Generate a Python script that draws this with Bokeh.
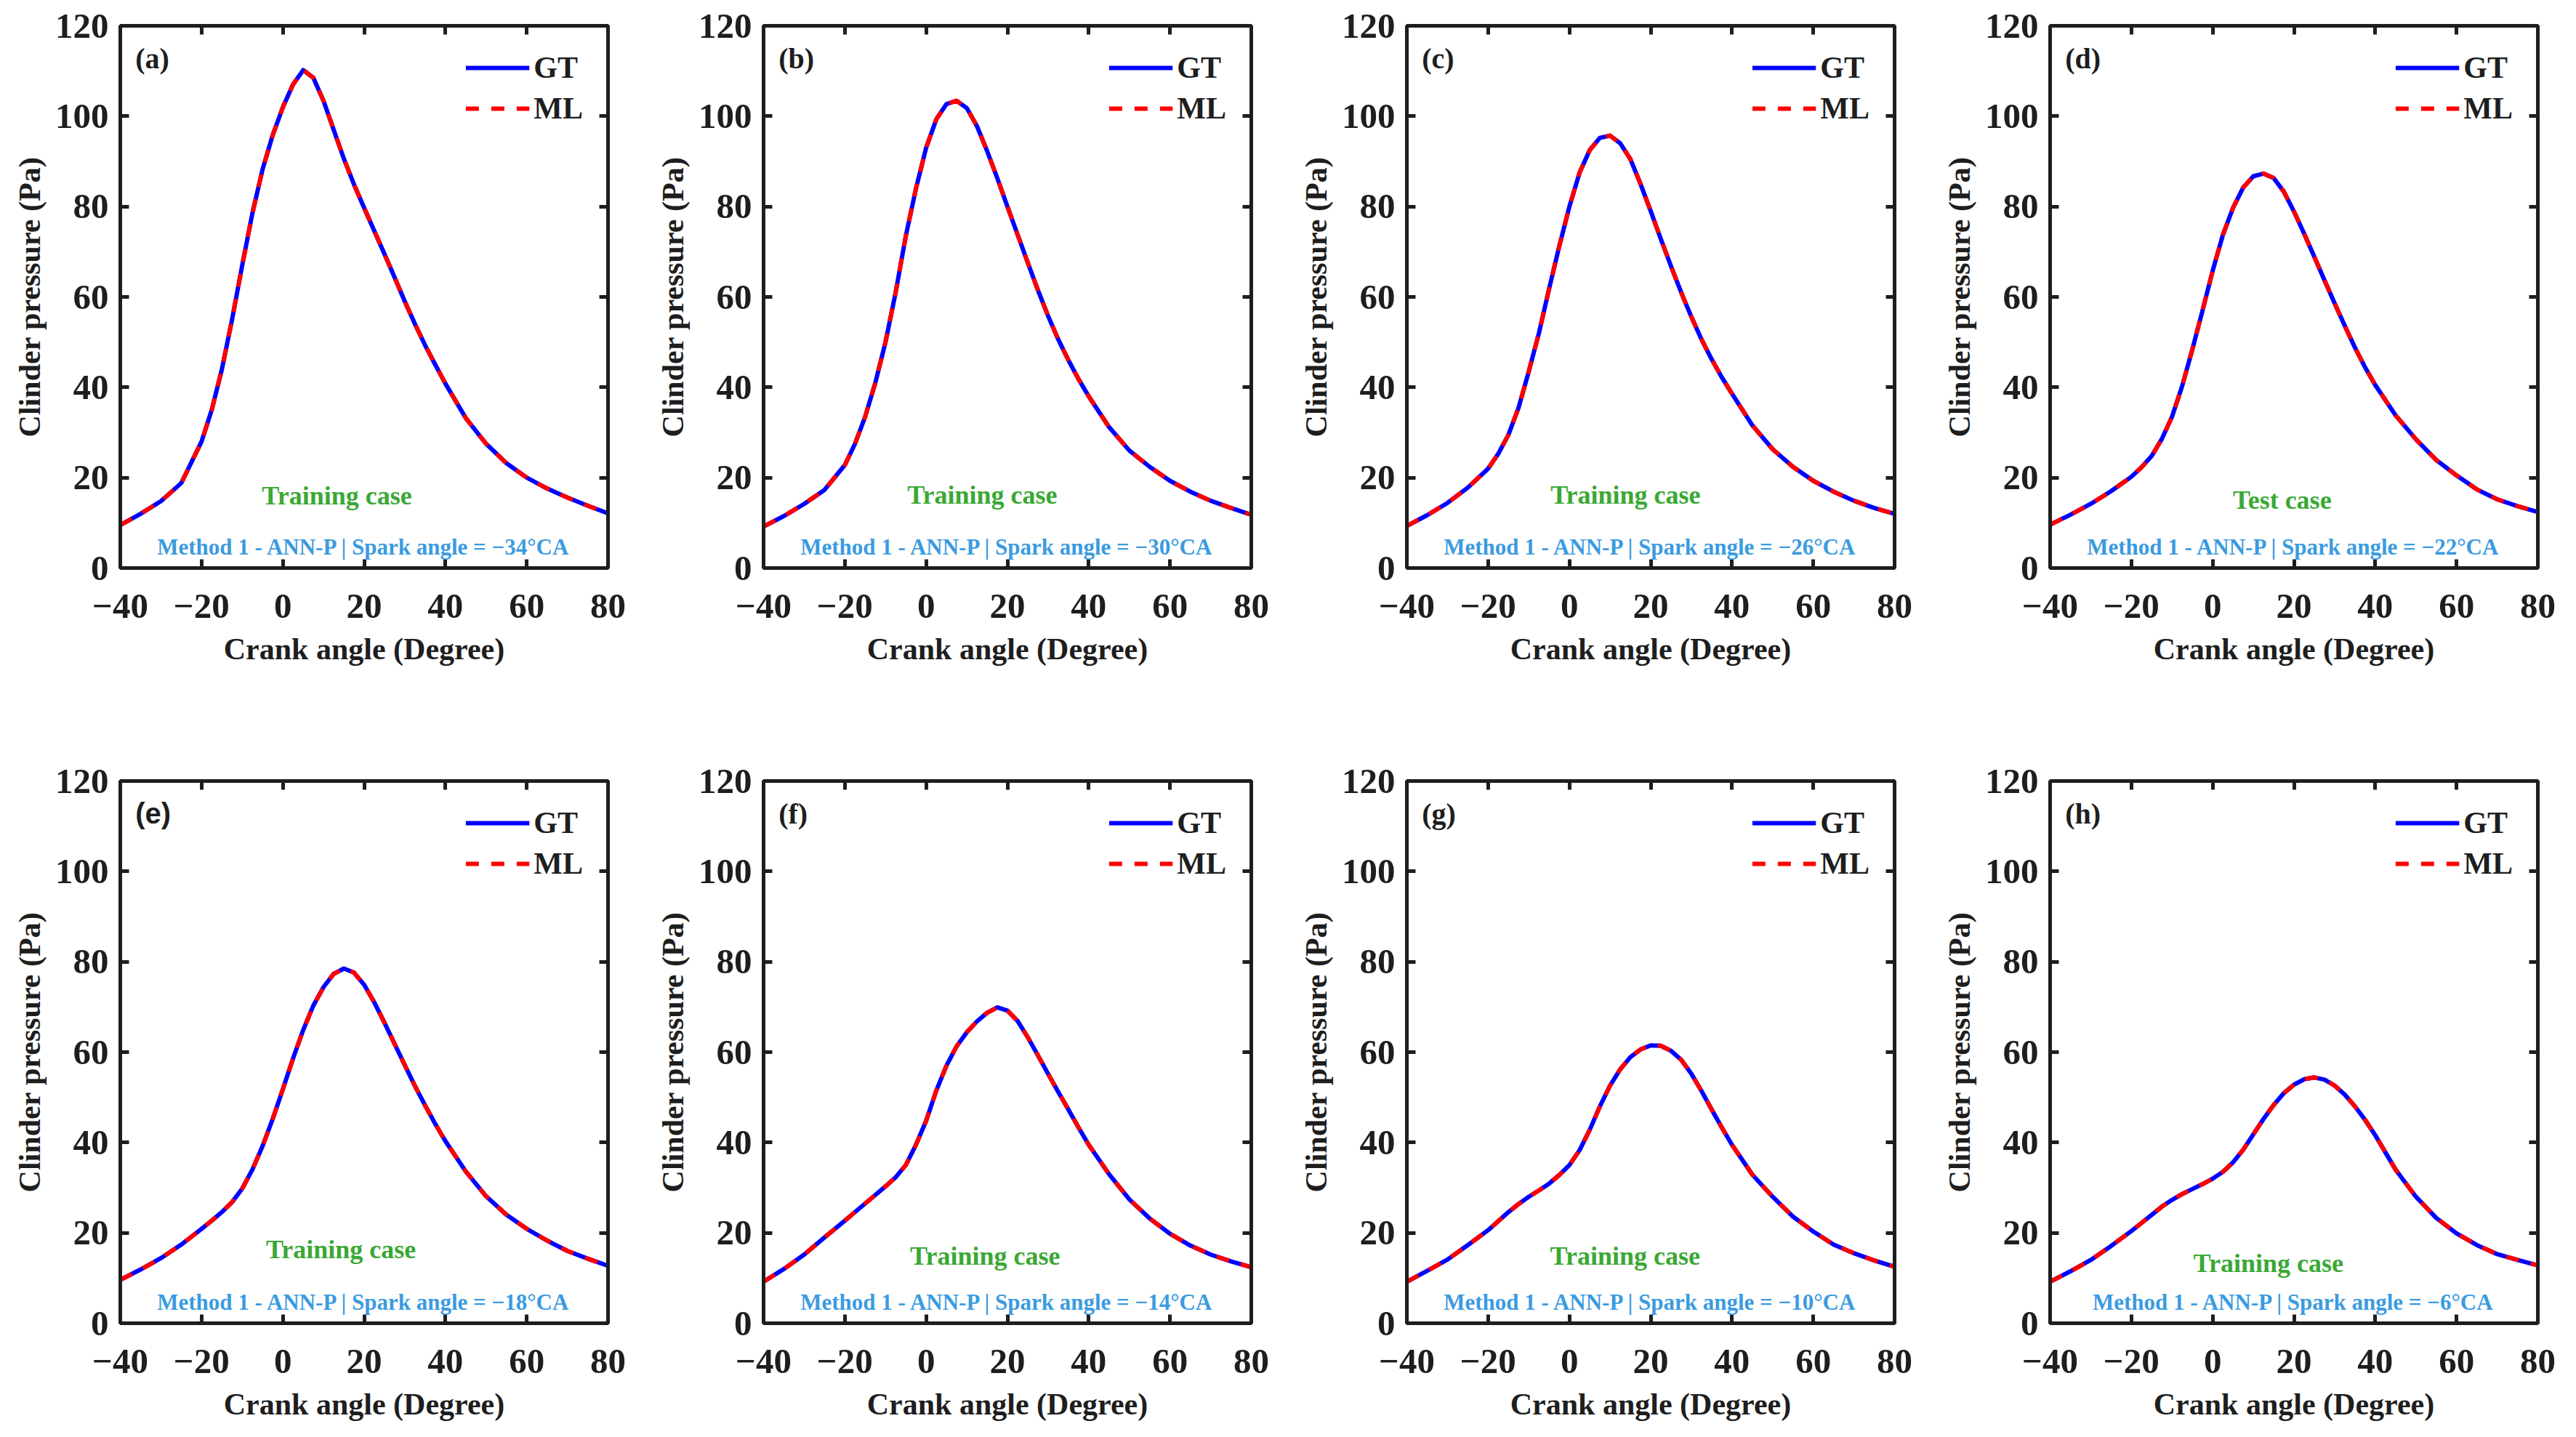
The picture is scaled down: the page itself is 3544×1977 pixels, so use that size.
from bokeh.plotting import figure
from bokeh.models import (Label, LinearAxis, FixedTicker, Range1d, Legend, LegendItem,
                          CustomLabelingPolicy)
from bokeh.layouts import column, row
from bokeh.embed import file_html
from bokeh.resources import INLINE

# ---------------- data ----------------
crank_angle = [-40, -35, -30, -25, -20, -17.5, -15, -12.5, -10, -7.5, -5, -2.5, 0, 2.5, 5,
               7.5, 10, 12.5, 15, 17.5, 20, 22.5, 25, 27.5, 30, 32.5, 35, 37.5, 40, 45, 50,
               55, 60, 65, 70, 75, 80]

pressure_a = [9.5, 12.0, 14.8, 18.8, 28.0, 35.0, 44.0, 55.0, 67.0, 78.5, 88.2, 95.8, 102.0,
              107.0, 110.2, 108.5, 103.4, 97.0, 90.6, 84.9, 79.7, 74.6, 69.5, 64.3, 59.0,
              54.0, 49.3, 45.0, 40.8, 33.2, 27.5, 23.2, 20.0, 17.6, 15.6, 13.8, 12.1]
pressure_b = [9.2, 11.5, 14.2, 17.3, 22.8, 27.5, 33.5, 41.0, 50.0, 61.0, 73.5, 84.0, 93.0,
              99.3, 102.7, 103.4, 101.8, 97.8, 92.3, 86.3, 80.0, 73.8, 67.6, 61.5, 55.8,
              50.6, 46.0, 41.8, 38.0, 31.2, 26.0, 22.4, 19.3, 16.9, 14.9, 13.3, 11.8]
pressure_c = [9.3, 11.7, 14.4, 17.8, 22.0, 25.3, 29.5, 35.5, 43.5, 52.0, 61.8, 71.2, 80.0,
              87.5, 92.5, 95.2, 95.7, 94.0, 90.5, 85.0, 79.0, 72.8, 66.8, 61.0, 55.6,
              50.6, 46.2, 42.2, 38.6, 31.6, 26.3, 22.4, 19.3, 16.9, 14.9, 13.3, 12.0]
pressure_d = [9.6, 11.8, 14.2, 17.0, 20.2, 22.3, 24.8, 28.6, 33.5, 40.3, 48.4, 57.0, 65.8,
              73.7, 79.7, 84.2, 86.7, 87.3, 86.3, 83.3, 78.9, 74.0, 68.9, 63.7, 58.6,
              53.6, 48.8, 44.4, 40.5, 33.8, 28.5, 23.9, 20.5, 17.4, 15.2, 13.7, 12.4]
pressure_e = [9.6, 11.9, 14.4, 17.4, 20.9, 22.7, 24.6, 26.8, 29.8, 34.0, 39.2, 45.2, 51.8,
              58.6, 64.9, 70.3, 74.4, 77.3, 78.5, 77.6, 74.9, 71.0, 66.5, 61.8, 57.1,
              52.5, 48.2, 44.1, 40.3, 33.6, 28.1, 24.0, 20.9, 18.3, 16.0, 14.3, 12.7]
pressure_f = [9.2, 12.0, 15.2, 19.0, 22.7, 24.6, 26.5, 28.4, 30.3, 32.3, 35.0, 39.5, 44.8,
              51.5, 57.0, 61.3, 64.4, 66.8, 68.7, 69.9, 69.2, 66.9, 63.3, 59.3, 55.2,
              51.2, 47.3, 43.3, 39.5, 33.0, 27.4, 23.2, 19.8, 17.2, 15.2, 13.7, 12.4]
pressure_g = [9.2, 11.6, 14.1, 17.3, 20.6, 22.6, 24.6, 26.4, 28.0, 29.4, 30.9, 32.8, 35.0,
              38.3, 42.8, 48.0, 52.6, 56.2, 58.9, 60.6, 61.5, 61.4, 60.3, 58.3, 55.2,
              51.4, 47.3, 43.3, 39.5, 32.9, 28.0, 23.6, 20.3, 17.4, 15.5, 13.9, 12.5]
pressure_h = [9.2, 11.5, 14.0, 17.1, 20.4, 22.2, 24.0, 25.8, 27.3, 28.6, 29.7, 30.8, 32.0,
              33.5, 35.6, 38.4, 41.8, 45.2, 48.3, 50.9, 52.8, 54.0, 54.4, 53.9, 52.6,
              50.6, 48.0, 45.0, 41.6, 34.0, 28.0, 23.3, 19.9, 17.3, 15.3, 14.0, 12.8]

pressures = [pressure_a, pressure_b, pressure_c, pressure_d,
             pressure_e, pressure_f, pressure_g, pressure_h]
panel_labels = ["(a)", "(b)", "(c)", "(d)", "(e)", "(f)", "(g)", "(h)"]
spark_angles = [-34, -30, -26, -22, -18, -14, -10, -6]
case_types = ["Training case", "Training case", "Training case", "Test case",
              "Training case", "Training case", "Training case", "Training case"]

x_ticks = [-40, -20, 0, 20, 40, 60, 80]
x_tick_labels = ["\u221240", "\u221220", "0", "20", "40", "60", "80"]
y_ticks = [0, 20, 40, 60, 80, 100, 120]

# ---------------- styling / layout ----------------
SERIF = "Liberation Serif"
SANS = "Liberation Sans"
FRAME_COLOR = "#1e1e1e"
GT_COLOR = "#0000ff"
ML_COLOR = "#ff0000"
CASE_COLOR = "#3aa834"
METHOD_COLOR = "#3b9be0"

case_xy = [(13.3, 16.0), (13.8, 16.2), (13.8, 16.2), (17.1, 15.0),
           (14.3, 16.4), (14.5, 14.9), (13.7, 14.9), (13.7, 13.3)]
method_y = 4.7

NO_LABELS = CustomLabelingPolicy(code="""
const all = Array.from(indices)
for (const i of all) indices.unset(i)
return indices
""")


def style_axis(ax, ticks, show_labels, overrides=None):
    ax.ticker = FixedTicker(ticks=ticks)
    ax.major_tick_in = 12
    ax.major_tick_out = 0
    ax.minor_tick_in = 0
    ax.minor_tick_out = 0
    ax.major_tick_line_width = 5
    ax.major_tick_line_color = FRAME_COLOR
    ax.axis_line_width = 5
    ax.axis_line_color = FRAME_COLOR
    if show_labels:
        ax.major_label_text_font = SERIF
        ax.major_label_text_font_style = "bold"
        ax.major_label_text_font_size = "49px"
        ax.major_label_text_color = FRAME_COLOR
        ax.major_label_standoff = 16
        ax.axis_label_text_font = SERIF
        ax.axis_label_text_font_style = "bold"
        ax.axis_label_text_font_size = "42px"
        ax.axis_label_text_color = FRAME_COLOR
        if overrides:
            ax.major_label_overrides = overrides
    else:
        ax.major_label_policy = NO_LABELS
        ax.major_label_standoff = 0
        ax.axis_label = None


def make_panel(i, width, height, border_right, border_bottom):
    p = figure(width=width, height=height,
               x_range=Range1d(-40, 80), y_range=Range1d(0, 120),
               output_backend="svg", toolbar_location=None,
               min_border_left=165, min_border_right=border_right,
               min_border_top=35, min_border_bottom=border_bottom,
               x_axis_label="Crank angle (Degree)",
               y_axis_label="Clinder pressure (Pa)")
    p.xgrid.visible = False
    p.ygrid.visible = False
    p.outline_line_color = FRAME_COLOR
    p.outline_line_width = 5
    p.background_fill_color = "white"
    p.border_fill_color = "white"

    overrides = {t: s for t, s in zip(x_ticks, x_tick_labels)}
    style_axis(p.xaxis[0], x_ticks, True, overrides)
    p.xaxis[0].major_label_standoff = 36
    p.xaxis[0].axis_label_standoff = 17
    style_axis(p.yaxis[0], y_ticks, True)
    p.yaxis[0].axis_label_standoff = 9

    top_ax = LinearAxis()
    style_axis(top_ax, x_ticks, False)
    p.add_layout(top_ax, "above")
    right_ax = LinearAxis()
    style_axis(right_ax, y_ticks, False)
    p.add_layout(right_ax, "right")

    r_gt = p.line(crank_angle, pressures[i], line_color=GT_COLOR, line_width=6,
                  line_join="round")
    r_ml = p.line(crank_angle, pressures[i], line_color=ML_COLOR, line_width=6,
                  line_dash="18 17", line_join="round")

    legend = Legend(items=[LegendItem(label="GT", renderers=[r_gt]),
                           LegendItem(label="ML", renderers=[r_ml])],
                    location="top_right")
    legend.border_line_alpha = 0
    legend.background_fill_alpha = 0
    legend.label_text_font = SERIF
    legend.label_text_font_style = "bold"
    legend.label_text_font_size = "42px"
    legend.label_text_color = FRAME_COLOR
    legend.glyph_width = 88
    legend.glyph_height = 42
    legend.label_height = 42
    legend.label_standoff = 6
    legend.spacing = 8
    legend.margin = 20
    legend.padding = 14
    p.add_layout(legend)

    p.add_layout(Label(x=-36.3, y=112.8, text=panel_labels[i],
                       text_font=SANS if i == 4 else SERIF, text_font_style="bold",
                       text_font_size="40px", text_color=FRAME_COLOR,
                       text_align="left", text_baseline="middle"))
    cx, cy = case_xy[i]
    p.add_layout(Label(x=cx, y=cy, text=case_types[i], text_font=SERIF,
                       text_font_style="bold", text_font_size="36px",
                       text_color=CASE_COLOR, text_align="center",
                       text_baseline="middle"))
    method_text = "Method 1 - ANN-P | Spark angle = \u2212%d\u00b0CA" % abs(spark_angles[i])
    p.add_layout(Label(x=20, y=method_y, text=method_text, text_font=SERIF,
                       text_font_style="bold", text_font_size="31px",
                       text_color=METHOD_COLOR, text_align="center",
                       text_baseline="middle"))
    return p


rows = []
for r, (h, bb) in enumerate([(1039, 258), (920, 139)]):
    figs = []
    for c in range(4):
        i = r * 4 + c
        w = 873 if c == 3 else 885
        br = 37 if c == 3 else 49
        figs.append(make_panel(i, w, h, br, bb))
    rows.append(row(*figs))

layout = column(*rows)
open("out.html", "w").write(file_html(layout, INLINE))
